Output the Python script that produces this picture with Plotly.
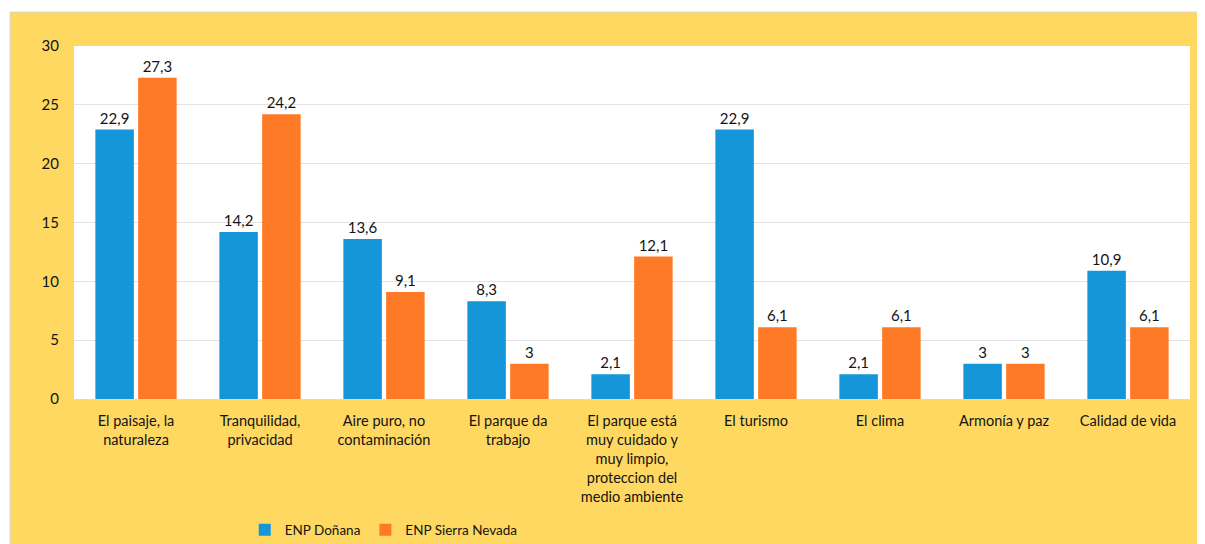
import plotly.graph_objects as go

categories = [
    "El paisaje, la<br>naturaleza",
    "Tranquilidad,<br>privacidad",
    "Aire puro, no<br>contaminación",
    "El parque da<br>trabajo",
    "El parque está<br>muy cuidado y<br>muy limpio,<br>proteccion del<br>medio ambiente",
    "El turismo",
    "El clima",
    "Armonía y paz",
    "Calidad de vida",
]
donana = [22.9, 14.2, 13.6, 8.3, 2.1, 22.9, 2.1, 3, 10.9]
sierra_nevada = [27.3, 24.2, 9.1, 3, 12.1, 6.1, 6.1, 3, 6.1]
y_ticks = [0, 5, 10, 15, 20, 25, 30]


def fmt(values):
    return [f"{v:g}".replace(".", ",") for v in values]


fig = go.Figure()

fig.add_trace(go.Bar(
    x=categories,
    y=donana,
    name="ENP Doñana",
    marker=dict(color="#1596d8", line=dict(width=0)),
    text=fmt(donana),
    textposition="outside",
    textfont=dict(size=15),
    cliponaxis=False,
))

fig.add_trace(go.Bar(
    x=categories,
    y=sierra_nevada,
    name="ENP Sierra Nevada",
    marker=dict(color="#ff7a26", line=dict(width=0)),
    text=fmt(sierra_nevada),
    textposition="outside",
    textfont=dict(size=15),
    cliponaxis=False,
))

# yellow frame, then the white plotting area on top of it
fig.add_shape(
    type="rect", xref="paper", yref="paper",
    x0=-0.0573, x1=1.03, y0=-0.43, y1=1.0963,
    fillcolor="#fed861", line=dict(color="#d8d8d8", width=1),
    layer="below",
)
fig.add_shape(
    type="rect", xref="paper", yref="paper",
    x0=0, x1=1, y0=0, y1=1,
    fillcolor="white", line=dict(width=0),
    layer="below",
)

# page body has an 8px margin, so the figure is sized to fit the window
fig.update_layout(
    width=1197,
    height=536,
    margin=dict(l=66, r=15, t=38, b=145),
    paper_bgcolor="white",
    plot_bgcolor="white",
    font=dict(family="Lato, Open Sans, sans-serif", size=14, color="#141414"),
    barmode="group",
    bargap=0.31,
    bargroupgap=0.1,
    showlegend=True,
    legend=dict(
        orientation="h",
        x=0.153, xanchor="left",
        yref="container",
        y=0.026, yanchor="middle",
        bgcolor="rgba(0,0,0,0)",
        font=dict(size=13.5),
        itemwidth=30,
    ),
    xaxis=dict(
        showgrid=False,
        showline=True,
        linecolor="#d9d9d9",
        ticks="",
        tickangle=0,
        ticklabelstandoff=9,
        automargin=False,
        tickfont=dict(size=14.5),
    ),
    yaxis=dict(
        range=[0, 30],
        tickvals=y_ticks,
        gridcolor="#e3e3e3",
        gridwidth=1,
        zeroline=False,
        ticks="",
        ticklabelstandoff=14,
        automargin=False,
        tickfont=dict(size=15),
    ),
)

fig.write_html("out.html")
